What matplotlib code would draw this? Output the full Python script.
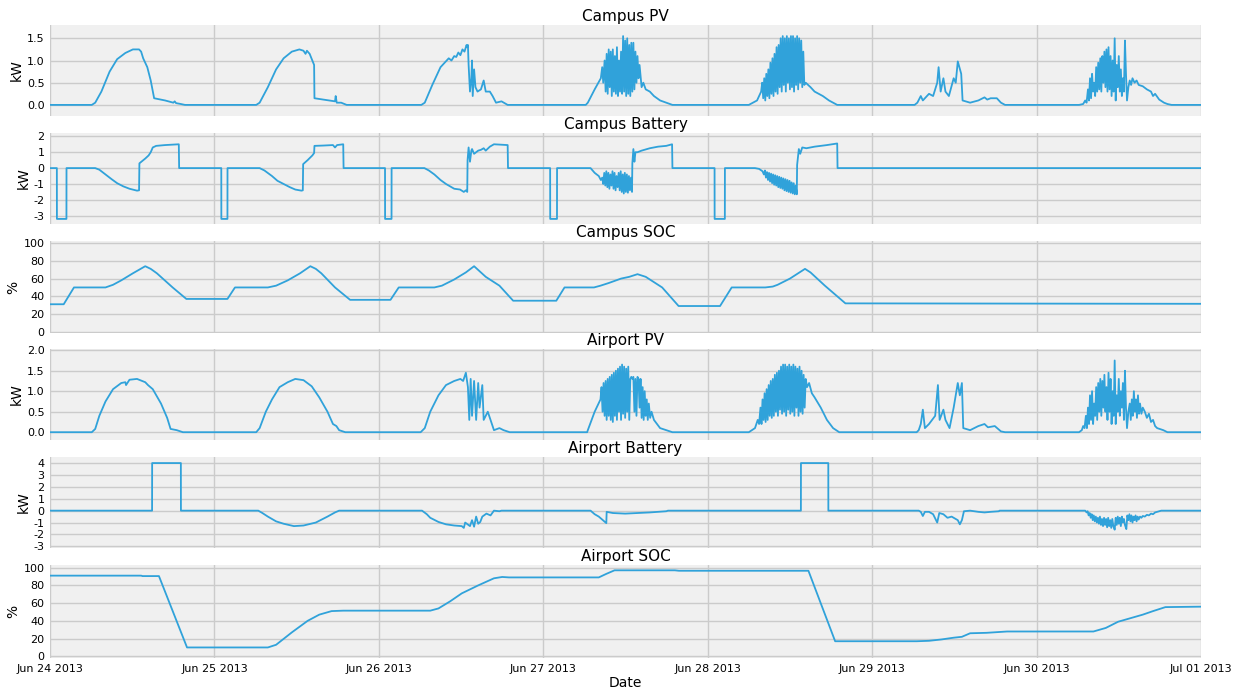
import matplotlib
matplotlib.use("Agg")
import matplotlib.pyplot as plt
import matplotlib.dates as mdates
import pandas as pd

# ---------------- data: (hours since 2013-06-24 00:00, value) ----------------
campus_pv = [
    (0, 0), (6.1, 0), (6.6, 0.05), (7.5, 0.3), (8.7, 0.75), (9.8, 1.03), (11.0, 1.17), (12.1, 1.25), (13.0, 1.25),
    (13.3, 1.2), (13.6, 1.05), (13.9, 0.95), (14.2, 0.85), (14.7, 0.55), (15.2, 0.15), (16.8, 0.1), (18.0, 0.05),
    (18.2, 0.08), (18.4, 0.04), (19.1, 0.02), (19.7, 0),
    (30.1, 0), (30.6, 0.05), (31.8, 0.4), (33.0, 0.8), (34.1, 1.05), (35.3, 1.2), (36.4, 1.25), (37.0, 1.22),
    (37.3, 1.15), (37.5, 1.22), (37.9, 1.15), (38.55, 0.9), (38.6, 0.15), (39.9, 0.12), (41.6, 0.08), (41.7, 0.2),
    (41.85, 0.05), (42.5, 0.05), (43.3, 0),
    (54.2, 0), (54.7, 0.05), (55.8, 0.45), (57.0, 0.85), (58.2, 1.05), (58.6, 1.0), (59.0, 1.1), (59.3, 1.08),
    (59.6, 1.18), (59.9, 1.12), (60.2, 1.25), (60.5, 1.2), (60.8, 1.35), (60.9, 1.3), (61.0, 1.35), (61.1, 0.9),
    (61.3, 0.3), (61.5, 0.6), (61.6, 1.0), (61.7, 0.2), (61.9, 0.8), (62.1, 0.4), (62.4, 0.3), (62.9, 0.35),
    (63.3, 0.55), (63.6, 0.3), (64.2, 0.3), (64.6, 0.2), (65.1, 0.05), (65.9, 0.08), (66.8, 0),
    (78.2, 0), (78.5, 0.05), (79.5, 0.35), (80.4, 0.6), (80.6, 0.85), (80.75, 0.5), (80.95, 1.0), (81.1, 0.3),
    (81.25, 1.15), (81.4, 0.25), (81.55, 1.25), (81.7, 0.4), (81.85, 1.2), (82.0, 0.2), (82.15, 1.25), (82.3, 0.3),
    (82.45, 1.1), (82.6, 0.25), (82.75, 1.3), (82.9, 0.2), (83.05, 1.0), (83.2, 0.3), (83.35, 1.2), (83.5, 0.25),
    (83.65, 1.55), (83.8, 0.3), (83.95, 1.45), (84.1, 0.2), (84.25, 1.5), (84.4, 0.25), (84.55, 1.35), (84.7, 0.2),
    (84.85, 1.4), (85.0, 0.3), (85.15, 1.4), (85.3, 0.35), (85.45, 1.2), (85.6, 0.5), (85.75, 1.1), (85.9, 0.6),
    (86.05, 0.9), (86.35, 0.4), (86.6, 0.5), (86.95, 0.35), (87.55, 0.3), (88.15, 0.2), (89.05, 0.1),
    (89.95, 0.05), (90.85, 0),
    (102.0, 0), (103.2, 0.1), (103.8, 0.3), (103.95, 0.5), (104.1, 0.15), (104.25, 0.6), (104.4, 0.1),
    (104.55, 0.7), (104.7, 0.2), (104.85, 0.8), (105.0, 0.15), (105.15, 0.95), (105.3, 0.25), (105.45, 1.05),
    (105.6, 0.2), (105.75, 1.15), (105.9, 0.3), (106.05, 1.3), (106.2, 0.25), (106.35, 1.35), (106.5, 0.4),
    (106.65, 1.5), (106.8, 0.3), (106.95, 1.55), (107.1, 0.45), (107.25, 1.5), (107.4, 0.3), (107.55, 1.55),
    (107.7, 0.5), (107.85, 1.5), (108.0, 0.35), (108.15, 1.55), (108.3, 0.4), (108.45, 1.55), (108.6, 0.3),
    (108.75, 1.5), (108.9, 0.45), (109.05, 1.55), (109.2, 0.35), (109.35, 1.5), (109.5, 0.5), (109.65, 1.45),
    (109.8, 0.4), (109.95, 1.2), (110.1, 0.45), (110.3, 0.5), (111.0, 0.4), (111.6, 0.3), (112.2, 0.25),
    (112.8, 0.2), (113.7, 0.1), (114.9, 0),
    (126.2, 0), (126.6, 0.05), (127.1, 0.2), (127.4, 0.1), (127.7, 0.15), (128.3, 0.25), (128.9, 0.2),
    (129.5, 0.5), (129.7, 0.85), (130.0, 0.3), (130.4, 0.6), (130.7, 0.3), (131.2, 0.2), (131.9, 0.6),
    (132.2, 0.5), (132.5, 0.98), (133.0, 0.7), (133.2, 0.1), (134.3, 0.05), (135.5, 0.1), (136.4, 0.17),
    (136.8, 0.12), (137.3, 0.15), (138.2, 0.15), (138.8, 0.05), (139.4, 0),
    (150.2, 0), (150.8, 0.02), (151.1, 0.1), (151.3, 0.05), (151.5, 0.35), (151.65, 0.1), (151.8, 0.6),
    (151.95, 0.15), (152.1, 0.7), (152.25, 0.3), (152.4, 0.5), (152.55, 0.2), (152.7, 0.85), (152.85, 0.3),
    (153.0, 0.95), (153.15, 0.35), (153.3, 1.05), (153.45, 0.3), (153.6, 1.1), (153.75, 0.5), (153.9, 1.2),
    (154.05, 0.4), (154.2, 1.25), (154.35, 0.3), (154.5, 1.3), (154.65, 0.35), (154.8, 1.1), (154.95, 0.2),
    (155.1, 1.0), (155.25, 0.3), (155.4, 1.5), (155.55, 0.1), (155.7, 0.9), (155.85, 0.4), (156.0, 1.1),
    (156.15, 0.3), (156.3, 0.8), (156.45, 0.2), (156.6, 0.6), (156.75, 0.3), (156.9, 1.45), (157.05, 0.7),
    (157.2, 0.1), (157.4, 0.4), (157.6, 0.55), (157.8, 0.45), (158.0, 0.6), (158.3, 0.5), (158.6, 0.55),
    (158.9, 0.45), (159.5, 0.42), (160.1, 0.35), (160.7, 0.3), (161.0, 0.2), (161.3, 0.25), (161.9, 0.12),
    (162.6, 0.05), (163.1, 0.02), (163.7, 0), (168, 0),
]

campus_battery = [
    (0, 0), (1.0, 0), (1.01, -3.2), (2.4, -3.2), (2.41, 0), (6.6, 0), (7.2, -0.1), (8.1, -0.4), (9.0, -0.7),
    (9.8, -0.95), (10.7, -1.15), (11.6, -1.3), (12.7, -1.42), (13.0, -1.4), (13.05, 0.3), (13.9, 0.6),
    (14.4, 0.8), (14.7, 1.0), (15.0, 1.3), (15.5, 1.4), (16.8, 1.45), (18.8, 1.5), (18.85, 0),
    (25.0, 0), (25.01, -3.2), (25.9, -3.2), (25.91, 0), (30.6, 0), (31.3, -0.15), (32.4, -0.5), (33.2, -0.8),
    (34.1, -1.0), (35.0, -1.2), (35.8, -1.35), (36.7, -1.42), (36.9, -1.4), (36.95, 0.25), (37.6, 0.5),
    (38.3, 0.8), (38.55, 0.95), (38.6, 1.4), (39.9, 1.42), (41.3, 1.45), (41.6, 1.3), (41.9, 1.45), (42.8, 1.5),
    (42.85, 0),
    (48.9, 0), (48.91, -3.2), (49.85, -3.2), (49.86, 0), (54.65, 0), (55.3, -0.15), (56.1, -0.4), (57.0, -0.75),
    (57.8, -1.0), (59.0, -1.3), (59.85, -1.35), (60.1, -1.42), (60.4, -1.5), (60.7, -1.4), (60.9, -1.5),
    (60.95, 0.5), (61.1, 1.3), (61.3, 0.4), (61.5, 1.1), (61.6, 1.2), (61.9, 0.9), (62.5, 1.1), (62.9, 1.15),
    (63.3, 1.25), (63.6, 1.1), (64.2, 1.35), (64.8, 1.5), (66.6, 1.45), (66.8, 1.45), (66.85, 0),
    (73.0, 0), (73.01, -3.2), (74.0, -3.2), (74.01, 0), (78.9, 0), (79.5, -0.3), (80.1, -0.5), (80.4, -0.75),
    (80.6, -0.6), (80.75, -1.0), (80.9, -0.3), (81.05, -1.1), (81.2, -0.2), (81.35, -1.2), (81.5, -0.3),
    (81.65, -1.3), (81.8, -0.4), (81.95, -1.1), (82.1, -0.2), (82.25, -1.3), (82.4, -0.3), (82.55, -1.4),
    (82.7, -0.5), (82.85, -1.2), (83.0, -0.3), (83.15, -1.4), (83.3, -0.2), (83.45, -1.5), (83.6, -0.4),
    (83.75, -1.6), (83.9, -0.3), (84.05, -1.5), (84.2, -0.4), (84.35, -1.55), (84.5, -0.5), (84.65, -1.4),
    (84.8, -0.6), (84.95, -1.5), (85.0, 0.3), (85.15, 1.2), (85.3, 0.4), (85.45, 1.0), (85.75, 1.0),
    (86.35, 1.1), (87.55, 1.25), (88.75, 1.35), (89.95, 1.4), (90.8, 1.5), (90.85, 0),
    (97.0, 0), (97.01, -3.2), (98.5, -3.2), (98.51, 0), (102.9, 0), (103.5, -0.05), (104.0, -0.2),
    (104.2, -0.4), (104.35, -0.15), (104.5, -0.6), (104.65, -0.25), (104.8, -0.75), (104.95, -0.3),
    (105.1, -0.85), (105.25, -0.35), (105.4, -0.95), (105.55, -0.4), (105.7, -1.05), (105.85, -0.45),
    (106.0, -1.1), (106.15, -0.5), (106.3, -1.2), (106.45, -0.55), (106.6, -1.25), (106.75, -0.6), (106.9, -1.3),
    (107.05, -0.65), (107.2, -1.4), (107.35, -0.7), (107.5, -1.45), (107.65, -0.75), (107.8, -1.5),
    (107.95, -0.8), (108.1, -1.55), (108.25, -0.9), (108.4, -1.6), (108.55, -0.95), (108.7, -1.65),
    (108.85, -1.1), (109.0, -1.65), (109.05, 0.2), (109.3, 1.2), (109.5, 0.9), (109.8, 1.3), (110.4, 1.25),
    (111.6, 1.35), (113.4, 1.45), (114.9, 1.55), (114.95, 0), (168, 0),
]

campus_soc = [
    (0, 31), (2.0, 31), (3.5, 50), (8.1, 50), (9.2, 53), (10.4, 58), (12.1, 66), (13.9, 74), (14.7, 71),
    (15.6, 66), (17.9, 50), (19.9, 37),
    (25.9, 37), (27.0, 50), (31.8, 50), (33.0, 52), (34.7, 58), (36.5, 66), (38.0, 74), (38.8, 71), (39.6, 66),
    (41.6, 50), (43.8, 36),
    (49.7, 36), (50.9, 50), (56.1, 50), (57.2, 52), (59.0, 59), (60.7, 67), (61.9, 74), (63.6, 62), (65.6, 52),
    (67.6, 35),
    (73.9, 35), (75.1, 50), (79.4, 50), (80.35, 52), (81.55, 55), (83.35, 60), (84.55, 62), (85.75, 65),
    (86.95, 62), (89.35, 50), (91.75, 29),
    (97.8, 29), (99.5, 50), (104.4, 50), (105.5, 51), (106.2, 53), (108.0, 60), (110.2, 71), (111.0, 67),
    (113.1, 52), (116.1, 32), (168, 31.5),
]

airport_pv = [
    (0, 0), (6.1, 0), (6.6, 0.08), (7.2, 0.4), (8.1, 0.75), (9.2, 1.05), (10.4, 1.2), (11.0, 1.22), (11.1, 1.15),
    (11.6, 1.28), (12.7, 1.3), (13.9, 1.22), (14.3, 1.15), (15.0, 1.05), (16.2, 0.7), (17.1, 0.35), (17.6, 0.08),
    (18.5, 0.05), (19.4, 0),
    (30.1, 0), (30.6, 0.1), (31.5, 0.5), (32.4, 0.8), (33.5, 1.1), (34.7, 1.22), (35.8, 1.3), (37.0, 1.27),
    (38.2, 1.12), (39.3, 0.85), (40.5, 0.5), (41.3, 0.2), (41.8, 0.15), (42.2, 0.05), (43.1, 0),
    (54.1, 0), (54.7, 0.1), (55.5, 0.5), (56.7, 0.9), (57.8, 1.15), (59.0, 1.25), (59.9, 1.3), (60.3, 1.25),
    (60.7, 1.45), (61.0, 1.1), (61.2, 0.3), (61.4, 1.3), (61.6, 0.4), (61.9, 1.25), (62.2, 0.3), (62.5, 1.2),
    (62.7, 0.6), (63.1, 1.15), (63.3, 0.3), (63.9, 0.5), (64.2, 0.35), (64.8, 0.05), (65.6, 0.1), (66.2, 0.05),
    (67.1, 0),
    (78.4, 0), (78.5, 0.05), (79.5, 0.5), (80.35, 0.8), (80.5, 1.1), (80.65, 0.5), (80.8, 1.2), (80.95, 0.4),
    (81.1, 1.25), (81.25, 0.3), (81.4, 1.3), (81.55, 0.4), (81.7, 1.35), (81.85, 0.3), (82.0, 1.4), (82.15, 0.25),
    (82.3, 1.45), (82.45, 0.4), (82.6, 1.5), (82.75, 0.3), (82.9, 1.55), (83.05, 0.5), (83.2, 1.6), (83.35, 0.3),
    (83.5, 1.65), (83.65, 0.45), (83.8, 1.6), (83.95, 0.35), (84.1, 1.55), (84.25, 0.5), (84.4, 1.6),
    (84.55, 0.3), (84.7, 1.3), (84.85, 1.35), (85.0, 1.3), (85.15, 1.35), (85.3, 0.5), (85.45, 1.3),
    (85.6, 0.4), (85.75, 1.35), (85.9, 1.3), (86.05, 0.6), (86.2, 1.3), (86.35, 0.35), (86.5, 1.1),
    (86.65, 0.3), (86.8, 1.0), (86.95, 0.4), (87.1, 0.8), (87.25, 0.3), (87.4, 0.7), (87.6, 0.35), (87.8, 0.5),
    (88.15, 0.3), (88.6, 0.2), (89.05, 0.1), (89.95, 0.05), (90.85, 0),
    (102.0, 0), (102.9, 0.1), (103.3, 0.3), (103.5, 0.2), (103.7, 0.6), (103.85, 0.2), (104.0, 0.8),
    (104.15, 0.3), (104.3, 0.95), (104.45, 0.25), (104.6, 1.05), (104.75, 0.3), (104.9, 1.15), (105.05, 0.4),
    (105.2, 1.25), (105.35, 0.35), (105.5, 1.3), (105.65, 0.4), (105.8, 1.4), (105.95, 0.5), (106.1, 1.45),
    (106.25, 0.4), (106.4, 1.5), (106.55, 0.55), (106.7, 1.6), (106.85, 0.45), (107.0, 1.65), (107.15, 0.5),
    (107.3, 1.65), (107.45, 0.4), (107.6, 1.6), (107.75, 0.55), (107.9, 1.65), (108.05, 0.45), (108.2, 1.6),
    (108.35, 0.5), (108.5, 1.65), (108.65, 0.4), (108.8, 1.6), (108.95, 0.6), (109.1, 1.55), (109.25, 0.4),
    (109.4, 1.6), (109.55, 0.5), (109.7, 1.5), (109.85, 0.45), (110.0, 1.4), (110.15, 0.6), (110.3, 1.3),
    (110.5, 1.1), (110.8, 1.2), (111.2, 0.95), (111.6, 0.85), (112.5, 0.6), (113.4, 0.3), (114.3, 0.1),
    (115.2, 0),
    (126.5, 0), (126.8, 0.05), (127.1, 0.2), (127.4, 0.55), (127.7, 0.1), (128.3, 0.2), (129.2, 0.4),
    (129.6, 1.15), (129.85, 0.3), (130.4, 0.55), (130.7, 0.3), (131.3, 0.1), (131.9, 0.6), (132.5, 1.2),
    (132.8, 0.9), (133.1, 1.2), (133.3, 0.1), (134.3, 0.05), (135.5, 0.15), (136.4, 0.2), (136.9, 0.12),
    (137.9, 0.15), (138.8, 0.02), (139.4, 0),
    (150.2, 0), (150.6, 0.05), (150.8, 0.15), (151.0, 0.1), (151.2, 0.4), (151.35, 0.1), (151.5, 0.6),
    (151.65, 0.2), (151.8, 0.9), (151.95, 0.3), (152.1, 1.0), (152.25, 0.2), (152.4, 0.7), (152.55, 0.4),
    (152.7, 1.1), (152.85, 0.3), (153.0, 1.2), (153.15, 0.5), (153.3, 1.3), (153.45, 0.4), (153.6, 1.25),
    (153.75, 0.6), (153.9, 1.4), (154.05, 0.5), (154.2, 1.1), (154.35, 0.3), (154.5, 1.45), (154.65, 0.5),
    (154.8, 1.3), (154.95, 0.2), (155.1, 1.0), (155.25, 0.4), (155.4, 1.75), (155.55, 0.2), (155.7, 0.9),
    (155.85, 0.5), (156.0, 1.3), (156.15, 0.4), (156.3, 1.0), (156.45, 0.6), (156.6, 1.2), (156.75, 0.3),
    (156.9, 1.5), (157.05, 0.6), (157.2, 0.1), (157.4, 0.5), (157.6, 0.7), (157.75, 0.3), (157.9, 0.8),
    (158.05, 0.4), (158.2, 1.0), (158.35, 0.5), (158.5, 0.8), (158.65, 0.35), (158.8, 0.9), (158.95, 0.45),
    (159.1, 0.7), (159.3, 0.45), (159.5, 0.6), (159.8, 0.5), (160.1, 0.35), (160.4, 0.45), (160.7, 0.25),
    (161.0, 0.3), (161.3, 0.15), (161.6, 0.1), (162.5, 0.05), (163.1, 0), (168, 0),
]

airport_battery = [
    (0, 0), (14.9, 0), (14.91, 4.0), (19.1, 4.0), (19.11, 0), (30.4, 0), (31.0, -0.2), (31.8, -0.5),
    (33.0, -0.9), (34.1, -1.1), (35.6, -1.3), (37.0, -1.25), (38.8, -1.0), (40.5, -0.5), (41.6, -0.15),
    (42.2, 0), (54.3, 0), (55.0, -0.3), (55.5, -0.6), (56.7, -0.95), (57.8, -1.15), (59.0, -1.25), (60.1, -1.3),
    (60.4, -1.45), (60.6, -1.0), (61.3, -1.3), (61.6, -0.8), (61.9, -1.35), (62.2, -0.5), (62.5, -1.1),
    (62.8, -0.95), (63.1, -0.5), (63.7, -0.25), (64.3, -0.4), (64.8, 0), (65.6, -0.05), (65.9, 0),
    (78.9, 0), (79.5, -0.3), (80.1, -0.5), (80.7, -0.8), (81.2, -1.05), (81.25, -0.1), (82.15, -0.2),
    (83.95, -0.25), (85.75, -0.2), (87.55, -0.15), (89.95, -0.05), (90.2, 0),
    (109.6, 0), (109.61, 4.0), (113.6, 4.0), (113.61, 0),
    (126.8, 0), (127.1, -0.1), (127.4, -0.45), (127.7, -0.1), (128.3, -0.1), (128.9, -0.3), (129.5, -1.0),
    (129.8, -0.2), (130.4, -0.3), (131.0, -0.6), (131.6, -0.5), (132.5, -0.8), (132.8, -1.15), (133.1, -0.8),
    (133.4, -0.05), (134.3, 0), (135.5, -0.1), (136.4, -0.15), (137.3, -0.1), (138.5, -0.05), (138.6, 0),
    (151.1, 0), (151.3, -0.15), (151.45, -0.05), (151.6, -0.4), (151.75, -0.2), (151.9, -0.6), (152.05, -0.3),
    (152.2, -0.8), (152.35, -0.4), (152.5, -0.9), (152.65, -0.5), (152.8, -1.0), (152.95, -0.6), (153.1, -1.1),
    (153.25, -0.5), (153.4, -1.2), (153.55, -0.7), (153.7, -1.3), (153.85, -0.6), (154.0, -1.2), (154.15, -0.7),
    (154.3, -1.4), (154.45, -0.6), (154.6, -1.3), (154.75, -0.8), (154.9, -1.45), (155.05, -0.7), (155.2, -1.3),
    (155.4, -1.6), (155.55, -0.6), (155.7, -1.2), (155.85, -0.5), (156.0, -1.1), (156.15, -0.6), (156.3, -1.3),
    (156.45, -0.5), (156.6, -1.0), (156.75, -0.7), (156.9, -1.2), (157.1, -1.55), (157.25, -0.4), (157.4, -0.8),
    (157.55, -0.3), (157.7, -0.9), (157.85, -0.4), (158.0, -1.0), (158.15, -0.5), (158.3, -0.8), (158.45, -0.4),
    (158.6, -0.9), (158.75, -0.5), (158.9, -0.75), (159.1, -0.5), (159.3, -0.6), (159.5, -0.45), (159.8, -0.5),
    (160.1, -0.35), (160.4, -0.4), (160.7, -0.25), (161.0, -0.3), (161.3, -0.15), (161.6, -0.1), (162.2, 0),
    (168, 0),
]

airport_soc = [
    (0, 91), (13.3, 91), (13.5, 90.5), (15.9, 90.5), (20.0, 10), (31.8, 10), (33.0, 13), (35.3, 27), (37.6, 40),
    (39.3, 47), (41.1, 51), (42.8, 51.5), (55.5, 51.5), (56.7, 54), (58.4, 62), (60.1, 71), (62.5, 80),
    (64.8, 88), (66.0, 89.5), (67.0, 89), (80.1, 89), (81.2, 93), (82.4, 97), (91.2, 97), (91.8, 96.5),
    (110.7, 96.5), (114.6, 17), (126.5, 17), (128.3, 17.5), (130.1, 19), (131.9, 21), (133.1, 22), (134.3, 26),
    (136.7, 26.5), (139.7, 28), (152.3, 28), (154.1, 32), (155.9, 39), (157.7, 43), (159.5, 47), (161.0, 51),
    (162.8, 55.5), (168, 56),
]

titles = ["Campus PV", "Campus Battery", "Campus SOC", "Airport PV", "Airport Battery", "Airport SOC"]
ylabels = ["kW", "kW", "%", "kW", "kW", "%"]
series = [campus_pv, campus_battery, campus_soc, airport_pv, airport_battery, airport_soc]
start_date = "2013-06-24"
end_date = "2013-07-01"

# ---------------- styling / layout ----------------
LINE = "#30a2da"
BG = "#f0f0f0"
GRID = "#cbcbcb"

ylims = [(-0.25, 1.8), (-3.52, 2.21), (-1.5, 102.5), (-0.19, 2.03), (-3.14, 4.51), (-1.9, 103)]
yticks = [[0.0, 0.5, 1.0, 1.5], [-3, -2, -1, 0, 1, 2], [0, 20, 40, 60, 80, 100],
          [0.0, 0.5, 1.0, 1.5, 2.0], [-3, -2, -1, 0, 1, 2, 3, 4], [0, 20, 40, 60, 80, 100]]
yfmt = ["{:.1f}", "{:d}", "{:d}", "{:.1f}", "{:d}", "{:d}"]
# axes pixel extents (top, bottom)
extents = [(25, 116), (133, 224), (241, 333), (349, 440), (457, 548), (565, 658)]

W, H = 1239, 694
fig = plt.figure(figsize=(W / 100, H / 100), dpi=100, facecolor="white")
base = pd.Timestamp(start_date)
left_px, right_px = 50, 1201

axes = []
for i, (data, title, ylab) in enumerate(zip(series, titles, ylabels)):
    top, bot = extents[i]
    ax = fig.add_axes([left_px / W, 1 - bot / H, (right_px - left_px) / W, (bot - top) / H])
    axes.append(ax)
    hrs = [p[0] for p in data]
    vals = [p[1] for p in data]
    t = base + pd.to_timedelta(hrs, unit="h")
    ax.set_facecolor(BG)
    ax.plot(t, vals, color=LINE, lw=1.3)
    ax.set_xlim(pd.Timestamp(start_date), pd.Timestamp(end_date))
    ax.set_ylim(*ylims[i])
    ax.set_yticks(yticks[i])
    ax.set_yticklabels([yfmt[i].format(v) for v in yticks[i]])
    ax.grid(True, color=GRID, lw=1.0)
    ax.set_axisbelow(True)
    for s in ax.spines.values():
        s.set_visible(False)
    ax.tick_params(axis="both", length=0, labelsize=8, pad=4)
    ax.set_title(title, fontsize=11, pad=3)
    ax.set_ylabel(ylab, fontsize=10, labelpad=2)
    ax.xaxis.set_major_locator(mdates.DayLocator())
    ax.xaxis.set_major_formatter(mdates.DateFormatter("%b %d %Y"))
    if i < len(series) - 1:
        ax.tick_params(axis="x", labelbottom=False)

axes[-1].set_xlabel("Date", fontsize=10, labelpad=2)

fig.savefig("out.png", dpi=100, facecolor="white")
